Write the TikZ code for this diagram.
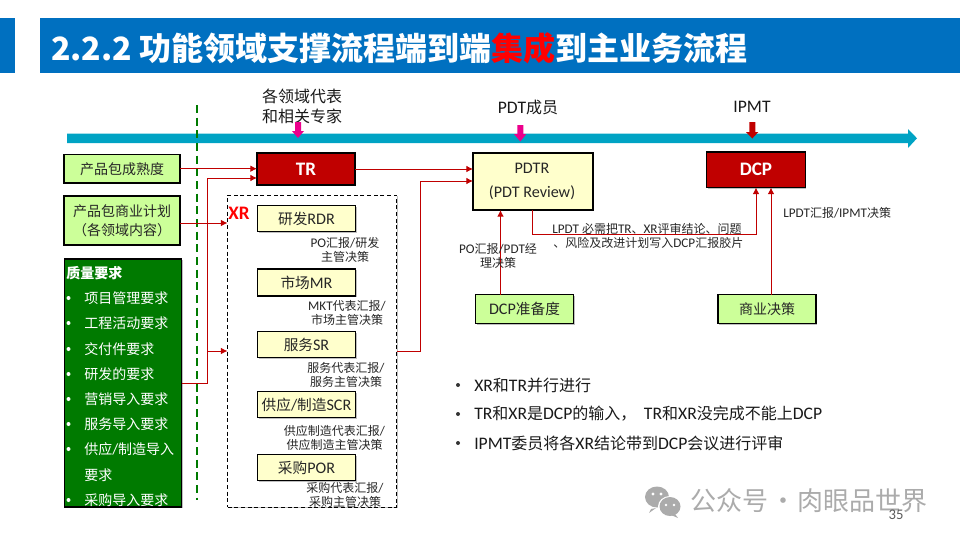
\documentclass[tikz,border=0pt]{standalone}
\usepackage{fontspec}
\usetikzlibrary{arrows.meta,shadows,calc}
\setmainfont{Noto Sans CJK SC}
\newfontfamily\cjkf{Noto Sans CJK SC}
\newfontfamily\latf[Scale=1.1]{Carlito}
\let\curlat\latf
\XeTeXinterchartokenstate=1
\newXeTeXintercharclass\cjkclass
\newcount\cc
\cc="4E00 \loop\ifnum\cc<"A000 \XeTeXcharclass\cc=\cjkclass \advance\cc by 1 \repeat
\cc="3000 \loop\ifnum\cc<"3040 \XeTeXcharclass\cc=\cjkclass \advance\cc by 1 \repeat
\cc="FF00 \loop\ifnum\cc<"FF60 \XeTeXcharclass\cc=\cjkclass \advance\cc by 1 \repeat
\XeTeXinterchartoks 0 \cjkclass={\cjkf}
\XeTeXinterchartoks 255 \cjkclass={\cjkf}
\XeTeXinterchartoks \cjkclass 0={\curlat}
\XeTeXinterchartoks 255 0={\curlat}
\definecolor{titleblue}{HTML}{0070C0}
\definecolor{axisteal}{HTML}{00A3C4}
\definecolor{darkred}{HTML}{C00000}
\definecolor{lgreen}{HTML}{CCFF99}
\definecolor{dgreen}{HTML}{007A00}
\definecolor{lyellow}{HTML}{FFFFCC}
\definecolor{wmgrey}{HTML}{ABABAB}
\newcommand{\fs}[2]{\fontsize{#1}{#2}\selectfont}
\tikzset{
  sz/.style 2 args={minimum width=#1*0.75pt,minimum height=#2*0.75pt},
  soft/.style={drop shadow={shadow xshift=0.9pt,shadow yshift=-1pt,opacity=.25,fill=black}},
  basebox/.style={draw=black,line width=0.9pt,inner sep=0pt,outer sep=0pt,align=center,soft},
  greenbox/.style={basebox,fill=lgreen,font=\fs{10.5}{14.5},text=black!85},
  yellowbox/.style={basebox,fill=lyellow,font=\fs{11}{13},text=black!85},
  redbox/.style={basebox,fill=darkred,text=white,font=\fs{13}{15}\bfseries},
  arrowline/.style={draw=darkred,line width=0.75pt,-{Latex[length=5pt,width=5pt]}},
  smalllabel/.style={font=\fs{9}{10.6},align=center,inner sep=0pt,text=black!85},
  toplabel/.style={font=\fs{12}{15},align=center,inner sep=0pt,text=black!90},
  listitem/.style={anchor=west,text=white,font=\fs{10.5}{13},inner sep=0pt},
  listdot/.style={circle,fill=white,inner sep=0pt,minimum size=3pt},
  pointitem/.style={anchor=west,font=\fs{12}{14},inner sep=0pt,text=black!90},
  pointdot/.style={circle,fill=black!80,inner sep=0pt,minimum size=3pt},
}
\begin{document}
\begin{tikzpicture}[x=0.75pt,y=-0.75pt]
\useasboundingbox (0,0) rectangle (960,540);
% title bar
\fill[titleblue] (0,18) rectangle (15,73);
\fill[titleblue] (40,18) rectangle (960,73);
\node[anchor=west,inner sep=0pt,text=white,font=\fs{24}{30}\bfseries] (title) at (51,48) {\let\curlat\cjkf 2.2.2 功能领域支撑流程端到端\textcolor{red}{集成}到主业务流程};
% dashed separator
\coordinate (sepT) at (197,105);
\coordinate (sepB) at (197,500);
% axis
\fill[axisteal] (67,133.5) -- (908,133.5) -- (908,129) -- (917,138.3) -- (908,148) -- (908,143) -- (67,143) -- cycle;
\draw[dgreen,line width=1.5pt,dash pattern=on 6pt off 3.5pt] (sepT) -- (sepB);
% top labels
\node[toplabel] (lblA) at (302,106) {各领域代表\\和相关专家};
\node[toplabel] (lblB) at (528,107) {\latf PDT成员};
\node[toplabel] (lblC) at (752,107) {\latf IPMT};
\fill[magenta] (295,122) -- (295,131) -- (292,131) -- (298,138) -- (304,131) -- (301,131) -- (301,122) -- cycle;
\fill[magenta] (517.3,125) -- (517.3,134) -- (514,134) -- (520.3,141.5) -- (526.3,134) -- (523.3,134) -- (523.3,125) -- cycle;
\fill[darkred] (749.3,122) -- (749.3,132) -- (746,132) -- (752.3,138.5) -- (758.3,132) -- (755.3,132) -- (755.3,122) -- cycle;
% left inputs
\node[greenbox,sz={116}{28.5}] (maturity) at (122,168.7) {产品包成熟度};
\node[greenbox,sz={116}{49}] (bizplan) at (122,220.5) {产品包商业计划\\（各领域内容）};
\node[basebox,fill=dgreen,sz={117}{248}] (quality) at (123,383) {};
\node[anchor=west,inner sep=0pt,text=white,font=\fs{10.5}{13}\bfseries] (qt) at (66,273) {质量要求};
\foreach \y/\t/\n in {298/项目管理要求/a,323/工程活动要求/b,349/交付件要求/c,374/研发的要求/d,399/营销导入要求/e,424/服务导入要求/f,449/{供应/制造导入}/g,500/采购导入要求/h}{
  \node[listdot] (dot\n) at (68.5,\y) {};
  \node[listitem] (item\n) at (84,\y) {\t};
}
\node[listitem] (itemg2) at (84,475) {要求};
% TR
\node[redbox,sz={98}{32}] (tr) at (306,169) {\latf TR};
% XR group
\node[draw=black,densely dashed,line width=0.7pt,inner sep=0pt,outer sep=0pt,sz={169}{312},soft,fill=white] (xr) at (312,351) {};
\node[anchor=west,inner sep=0pt,text=red,font=\fs{13}{15}\bfseries] (xrlabel) at (228,213) {\latf XR};
\node[yellowbox,sz={98}{26}] (rdr) at (306.5,218.5) {研发RDR};
\node[yellowbox,sz={98}{27}] (mr) at (306.5,282.5) {市场MR};
\node[yellowbox,sz={98}{26}] (sr) at (306.5,344.5) {服务SR};
\node[yellowbox,sz={98}{26}] (scr) at (306.5,404.5) {供应/制造SCR};
\node[yellowbox,sz={98}{26}] (por) at (306.5,467.5) {采购POR};
\node[smalllabel] (l1) at (345,250) {\latf PO汇报/研发\\主管决策};
\node[smalllabel] (l2) at (347,313) {\latf MKT代表汇报/\\市场主管决策};
\node[smalllabel] (l3) at (346,375) {服务代表汇报/\\服务主管决策};
\node[smalllabel] (l4) at (334.5,438) {供应制造代表汇报/\\供应制造主管决策};
\node[smalllabel] (l5) at (345,495) {采购代表汇报/\\采购主管决策};
% PDTR, DCP
\node[yellowbox,sz={120}{57}] (pdtr) at (533,181.5) {};
\node[inner sep=0pt,font=\latf\fs{11}{13},text=black!85] (pdtr1) at (532,168) {PDTR};
\node[inner sep=0pt,font=\latf\fs{11}{13},text=black!85] (pdtr2) at (532,193) {(PDT Review)};
\node[redbox,sz={98.5}{35.5}] (dcp) at (756,169.7) {\latf DCP};
\node[greenbox,font=\fs{11}{14.5},sz={98}{29}] (ready) at (524.5,309) {\latf DCP准备度};
\node[greenbox,sz={98}{29}] (biz) at (767,309) {商业决策};
% connector waypoints
\coordinate (xrIn) at (227.5,223);
\coordinate (busA) at (207,178);
\coordinate (busB) at (207,351);
\coordinate (busC) at (207,383);
\coordinate (outA) at (420,351);
\coordinate (outB) at (420,181);
\coordinate (rdyIn) at (500.5,210);
\coordinate (decA) at (532,234.5);
\coordinate (decB) at (756,234.5);
\coordinate (bizIn) at (771,187.5);
% connectors
\draw[arrowline] (maturity.east) -- (maturity.east -| tr.west);
\draw[arrowline] (bizplan.east |- xrIn) -- (xrIn);
\draw[arrowline] (quality.east |- busC) -- (busC) -- (busA) -- (busA -| tr.west);
\draw[arrowline] (busB) -- (busB -| xr.west);
\draw[arrowline] (tr.east) -- (tr.east -| pdtr.west);
\draw[arrowline] (outA -| xr.east) -- (outA) -- (outB) -- (outB -| pdtr.west);
\draw[arrowline] (rdyIn |- ready.north) -- (rdyIn);
\draw[arrowline] (decA |- pdtr.south) -- (decA) -- (decB) -- (decB |- dcp.south);
\draw[arrowline] (bizIn |- biz.north) -- (bizIn);
% connector labels
\node[smalllabel] (l6) at (498,256) {\latf PO汇报/PDT经\\理决策};
\node[smalllabel,anchor=west] (l7) at (552,229) {\latf LPDT \cjkf 必需把TR、XR评审结论、问题};
\node[smalllabel,anchor=west] (l8) at (553,243) {、风险及改进计划写入DCP汇报胶片};
\node[smalllabel,anchor=west] (l9) at (783,213) {\latf LPDT汇报/IPMT决策};
% bullets
\node[pointdot] (p1d) at (458,385) {};
\node[pointitem] (p1) at (474,385) {\latf XR和TR并行进行};
\node[pointdot] (p2d) at (458,414) {};
\node[pointitem] (p2) at (474,414) {\latf TR和XR是DCP的输入，\kern3pt\ \latf TR和XR没完成不能上DCP};
\node[pointdot] (p3d) at (458,443) {};
\node[pointitem] (p3) at (474,443) {\latf IPMT委员将各XR结论带到DCP会议进行评审};
% watermark
\fill[wmgrey] (657,497) ellipse (12 and 10.5);
\fill[wmgrey] (651,509) -- (649,513) -- (656,508) -- cycle;
\fill[white] (670,506.5) ellipse (12 and 10.5);
\fill[wmgrey] (670,506.5) ellipse (10.5 and 9.5);
\fill[wmgrey] (675,514) -- (678,518) -- (671,515) -- cycle;
\fill[white] (653,494) circle (1.6) (661,494) circle (1.6) (666,505) circle (1.4) (674,505) circle (1.4);
\node[anchor=west,inner sep=0pt,text=wmgrey,font=\fs{19.5}{23}] (wm) at (690,501) {公众号\kern-3pt\ ·\ \kern-3pt肉眼品世界};
\node[anchor=center,inner sep=0pt,text=black!65,font=\latf\fs{10}{12}] (page) at (896,515) {35};
\end{tikzpicture}
\end{document}
